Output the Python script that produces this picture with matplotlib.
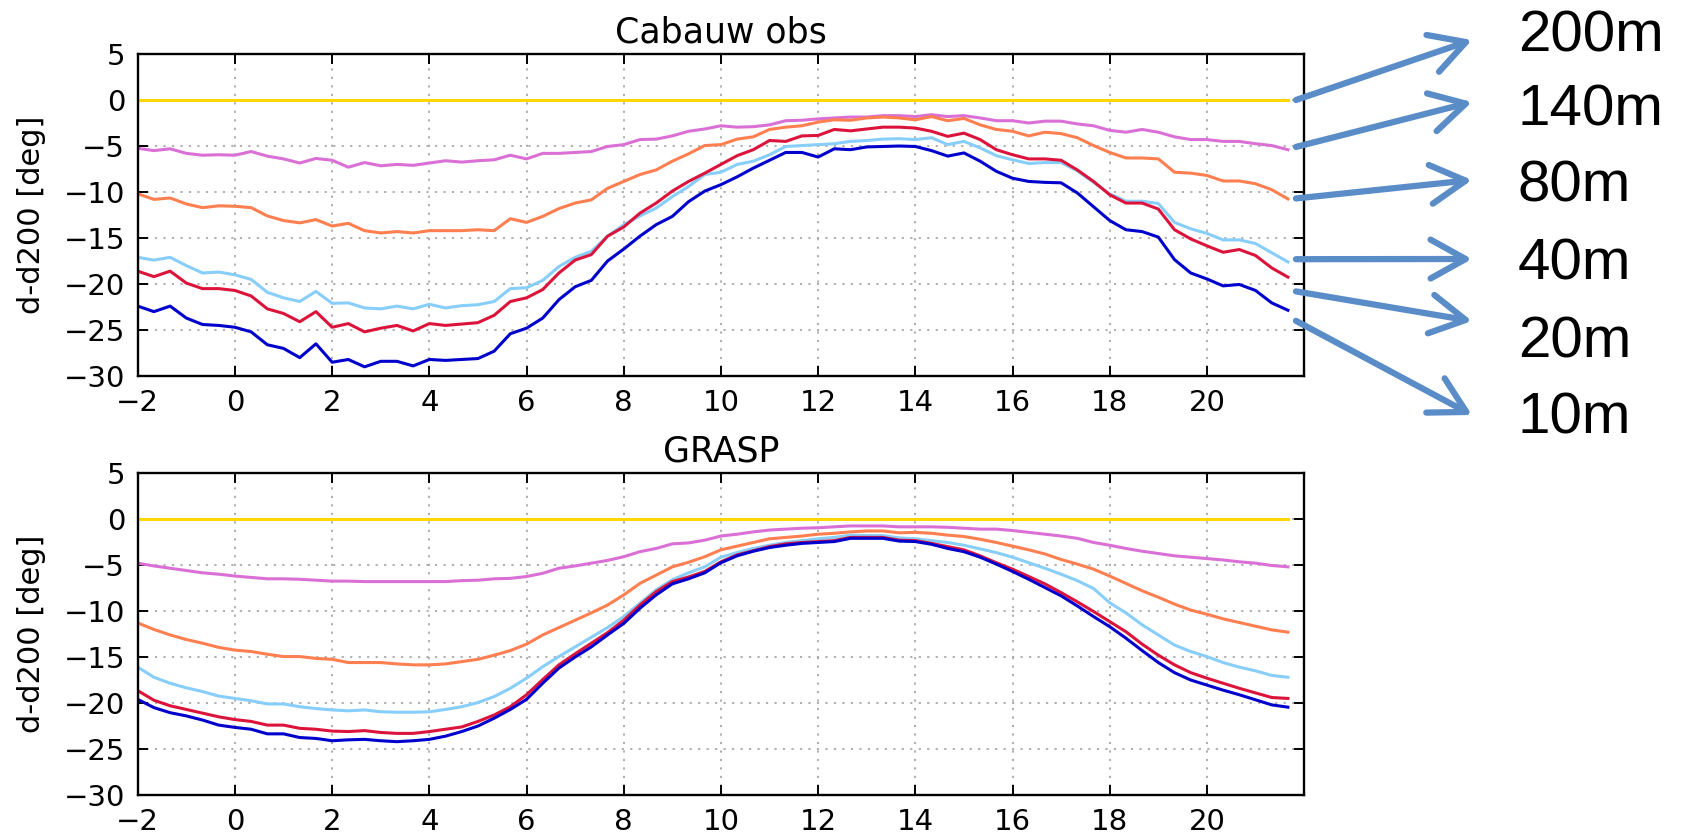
import numpy as np
import matplotlib
matplotlib.use("Agg")
import matplotlib.pyplot as plt

# time axis: 20-minute samples from -2 h to 21:40
hours = np.arange(72) / 3.0 - 2.0

heights = ["200m", "140m", "80m", "40m", "20m", "10m"]
colors = ["#FFD700", "#DA70D6", "#FF7F50", "#87CEFA", "#DC143C", "#0000CD"]

# Cabauw observations, d - d200 [deg]
obs_200 = [0.0] * 72
obs_140 = [-5.25, -5.5, -5.3, -5.8, -6.0, -5.95, -6.0, -5.6, -6.1, -6.4, -6.85,
           -6.35, -6.55, -7.3, -6.8, -7.15, -7.0, -7.1, -6.85, -6.6, -6.75, -6.6, -6.5,
           -6.0, -6.4, -5.8, -5.8, -5.7, -5.6, -5.05, -4.85, -4.3, -4.25, -3.9, -3.4,
           -3.15, -2.8, -2.95, -2.9, -2.7, -2.25, -2.2, -2.05, -1.95, -1.85, -1.85, -1.7,
           -1.7, -1.8, -1.6, -1.8, -1.7, -1.95, -2.25, -2.25, -2.5, -2.3, -2.3, -2.6,
           -2.8, -3.3, -3.5, -3.2, -3.5, -4.0, -4.3, -4.3, -4.5, -4.5, -4.75, -4.95, -5.4]
obs_80 = [-10.2, -10.8, -10.65, -11.3, -11.7, -11.5, -11.55, -11.7, -12.6, -13.1, -13.35,
          -13.0, -13.7, -13.4, -14.2, -14.45, -14.3, -14.45, -14.2, -14.2, -14.2, -14.1, -14.2,
          -12.9, -13.3, -12.65, -11.8, -11.2, -10.85, -9.6, -8.85, -8.1, -7.6, -6.65, -5.85,
          -4.95, -4.85, -4.25, -4.0, -3.2, -2.95, -2.8, -2.4, -2.15, -2.2, -1.95, -1.85,
          -1.95, -2.15, -1.8, -2.25, -2.0, -2.7, -3.2, -3.4, -3.9, -3.5, -3.65, -4.1,
          -4.95, -5.7, -6.3, -6.3, -6.4, -7.85, -7.95, -8.2, -8.8, -8.8, -9.1, -9.75, -10.75]
obs_40 = [-17.1, -17.4, -17.1, -18.0, -18.8, -18.7, -19.0, -19.5, -20.9, -21.5, -21.9,
          -20.8, -22.1, -22.05, -22.6, -22.7, -22.4, -22.7, -22.2, -22.6, -22.35, -22.25, -21.9,
          -20.5, -20.4, -19.6, -18.1, -17.1, -16.45, -14.8, -13.55, -12.6, -11.75, -10.5, -9.4,
          -8.1, -7.85, -7.0, -6.65, -5.95, -5.05, -4.95, -4.85, -4.75, -4.5, -4.4, -4.25,
          -4.2, -4.3, -4.1, -4.85, -4.5, -5.2, -6.05, -6.5, -6.9, -6.8, -6.8, -7.7,
          -8.95, -10.2, -11.0, -11.0, -11.25, -13.3, -14.0, -14.5, -15.2, -15.2, -15.6, -16.6, -17.6]
obs_20 = [-18.6, -19.2, -18.6, -19.9, -20.5, -20.5, -20.7, -21.3, -22.7, -23.2, -24.1,
          -23.0, -24.7, -24.3, -25.2, -24.8, -24.5, -25.1, -24.3, -24.5, -24.35, -24.2, -23.4,
          -21.9, -21.5, -20.6, -18.8, -17.4, -16.8, -14.8, -13.8, -12.3, -11.2, -9.9, -8.85,
          -7.95, -7.0, -6.05, -5.4, -4.4, -4.5, -3.9, -3.85, -3.2, -3.35, -3.15, -2.95,
          -2.95, -3.05, -3.4, -3.95, -3.6, -4.3, -5.4, -5.95, -6.4, -6.4, -6.55, -7.6,
          -8.85, -10.3, -11.2, -11.2, -11.85, -14.1, -15.1, -15.85, -16.55, -16.25, -16.9, -18.25, -19.25]
obs_10 = [-22.4, -23.0, -22.4, -23.7, -24.4, -24.5, -24.7, -25.2, -26.6, -27.0, -28.0,
          -26.5, -28.5, -28.2, -29.0, -28.4, -28.4, -28.9, -28.2, -28.3, -28.2, -28.1, -27.3,
          -25.4, -24.8, -23.7, -21.7, -20.3, -19.6, -17.5, -16.2, -14.8, -13.55, -12.65, -11.05,
          -9.9, -9.2, -8.35, -7.4, -6.55, -5.7, -5.7, -6.2, -5.3, -5.4, -5.1, -5.05,
          -5.0, -5.05, -5.5, -6.1, -5.75, -6.65, -7.75, -8.5, -8.85, -8.95, -9.0, -10.1,
          -11.6, -13.1, -14.1, -14.3, -14.9, -17.35, -18.8, -19.45, -20.2, -20.05, -20.7, -22.05, -22.85]

# GRASP model, d - d200 [deg]
grasp_200 = [0.0] * 72
grasp_140 = [-4.8, -5.1, -5.35, -5.6, -5.85, -6.0, -6.2, -6.35, -6.5, -6.5, -6.55, -6.65,
             -6.75, -6.75, -6.8, -6.8, -6.8, -6.8, -6.8, -6.8, -6.7, -6.65, -6.5, -6.45,
             -6.25, -5.9, -5.35, -5.1, -4.8, -4.5, -4.1, -3.55, -3.2, -2.7, -2.6, -2.3,
             -1.85, -1.65, -1.4, -1.2, -1.1, -1.0, -0.95, -0.85, -0.75, -0.75, -0.75, -0.85,
             -0.85, -0.85, -0.9, -1.0, -1.1, -1.1, -1.25, -1.45, -1.65, -1.85, -2.1, -2.55,
             -2.85, -3.2, -3.5, -3.75, -4.0, -4.15, -4.3, -4.45, -4.65, -4.8, -5.05, -5.2]
grasp_80 = [-11.3, -12.0, -12.6, -13.1, -13.5, -13.95, -14.25, -14.4, -14.7, -14.95, -14.95, -15.15,
            -15.25, -15.6, -15.6, -15.6, -15.75, -15.85, -15.85, -15.75, -15.5, -15.25, -14.8, -14.3,
            -13.6, -12.6, -11.8, -11.0, -10.2, -9.35, -8.25, -7.0, -6.1, -5.2, -4.7, -4.1,
            -3.35, -2.95, -2.55, -2.15, -2.0, -1.85, -1.65, -1.55, -1.4, -1.3, -1.3, -1.5,
            -1.45, -1.55, -1.75, -1.9, -2.2, -2.55, -2.95, -3.35, -3.8, -4.4, -4.9, -5.45,
            -6.2, -7.0, -7.8, -8.5, -9.25, -9.9, -10.35, -10.85, -11.25, -11.65, -12.05, -12.3]
grasp_40 = [-16.1, -17.2, -17.85, -18.35, -18.75, -19.25, -19.5, -19.75, -20.1, -20.1, -20.4, -20.6,
            -20.75, -20.85, -20.75, -20.95, -21.0, -21.0, -20.95, -20.7, -20.4, -19.95, -19.3, -18.4,
            -17.3, -16.05, -14.95, -13.9, -12.85, -11.8, -10.6, -9.15, -7.7, -6.6, -5.85, -5.2,
            -4.15, -3.65, -3.2, -2.85, -2.55, -2.35, -2.15, -2.0, -1.75, -1.8, -1.8, -2.05,
            -2.15, -2.35, -2.55, -2.85, -3.25, -3.65, -4.15, -4.75, -5.35, -6.0, -6.7, -7.55,
            -9.1, -10.2, -11.5, -12.6, -13.7, -14.4, -14.95, -15.6, -16.1, -16.5, -17.0, -17.2]
grasp_20 = [-18.65, -19.7, -20.3, -20.7, -21.1, -21.5, -21.8, -22.0, -22.4, -22.4, -22.75, -22.85,
            -23.05, -23.1, -23.0, -23.2, -23.3, -23.3, -23.1, -22.85, -22.6, -22.0, -21.3, -20.4,
            -19.1, -17.45, -15.85, -14.65, -13.5, -12.35, -11.0, -9.35, -7.9, -6.8, -6.3, -5.7,
            -4.65, -3.9, -3.45, -3.0, -2.7, -2.55, -2.45, -2.35, -2.0, -2.0, -2.0, -2.3,
            -2.35, -2.65, -3.0, -3.35, -4.0, -4.75, -5.45, -6.25, -7.05, -8.0, -9.0, -10.05,
            -11.15, -12.25, -13.6, -14.8, -15.85, -16.7, -17.3, -17.85, -18.4, -18.9, -19.4, -19.5]
grasp_10 = [-19.6, -20.5, -21.05, -21.4, -21.85, -22.4, -22.65, -22.85, -23.35, -23.35, -23.75, -23.85,
            -24.1, -24.0, -23.95, -24.1, -24.2, -24.1, -23.95, -23.6, -23.1, -22.5, -21.65, -20.7,
            -19.6, -17.85, -16.2, -15.0, -13.9, -12.6, -11.35, -9.7, -8.25, -7.05, -6.5, -5.85,
            -4.75, -4.0, -3.5, -3.1, -2.85, -2.65, -2.55, -2.45, -2.1, -2.1, -2.1, -2.4,
            -2.45, -2.75, -3.2, -3.55, -4.15, -4.9, -5.7, -6.55, -7.45, -8.35, -9.45, -10.6,
            -11.7, -12.95, -14.3, -15.6, -16.7, -17.5, -18.05, -18.6, -19.1, -19.65, -20.2, -20.45]

# where the legend arrows leave the top panel (data y) and where labels sit
arrow_start_y = [0.0, -5.1, -10.7, -17.3, -20.8, -24.0]
label_baseline_px = [785, 710, 634, 556, 479, 403]
arrow_tip_px = [796, 734, 656, 577, 515, 421]

plt.rcParams['font.family'] = ['DejaVu Sans']

fig = plt.figure(figsize=(16.86, 8.36), dpi=100)
ax_top = fig.add_axes([0.0817, 0.5502, 0.6918, 0.3852])
ax_bot = fig.add_axes([0.0817, 0.0490, 0.6918, 0.3852])

panels = [
    (ax_top, "Cabauw obs", [obs_200, obs_140, obs_80, obs_40, obs_20, obs_10]),
    (ax_bot, "GRASP", [grasp_200, grasp_140, grasp_80, grasp_40, grasp_20, grasp_10]),
]

for ax, title, series in panels:
    for vals, col in zip(series, colors):
        ax.plot(hours, vals, color=col, lw=2.2)
    ax.set_xlim(-2, 22)
    ax.set_ylim(-30, 5)
    ax.set_xticks(np.arange(-2, 21, 2))
    ax.set_yticks(np.arange(-30, 6, 5))
    ax.grid(True, color="#a8a8a8", linestyle=(0, (1.2, 3.5)), lw=1.3)
    ax.tick_params(direction="in", top=True, right=True, length=7, width=1.4,
                   labelsize=21, pad=9)
    for sp in ax.spines.values():
        sp.set_linewidth(1.7)
    ax.set_title(title, fontsize=25, pad=8)
    ax.set_ylabel("d-d200 [deg]", fontsize=22)
    ax.yaxis.set_label_coords(-0.079, 0.5)

# arrows pointing from the line ends to the height labels
for name, y0, tip_y, base_y in zip(heights, arrow_start_y, arrow_tip_px, label_baseline_px):
    ax_top.annotate("", xy=(1472, tip_y), xycoords="figure pixels",
                    xytext=(0.993, y0), textcoords=("axes fraction", "data"),
                    arrowprops=dict(arrowstyle="->,head_length=0.9,head_width=0.5",
                                    color="#5A8CC8", lw=4.5, mutation_scale=28,
                                    shrinkA=0, shrinkB=0),
                    annotation_clip=False)
    fig.text(1518 / 1686, base_y / 836, name, fontsize=42, family="Liberation Sans",
             ha="left", va="baseline")

fig.savefig("out.png", dpi=100)
